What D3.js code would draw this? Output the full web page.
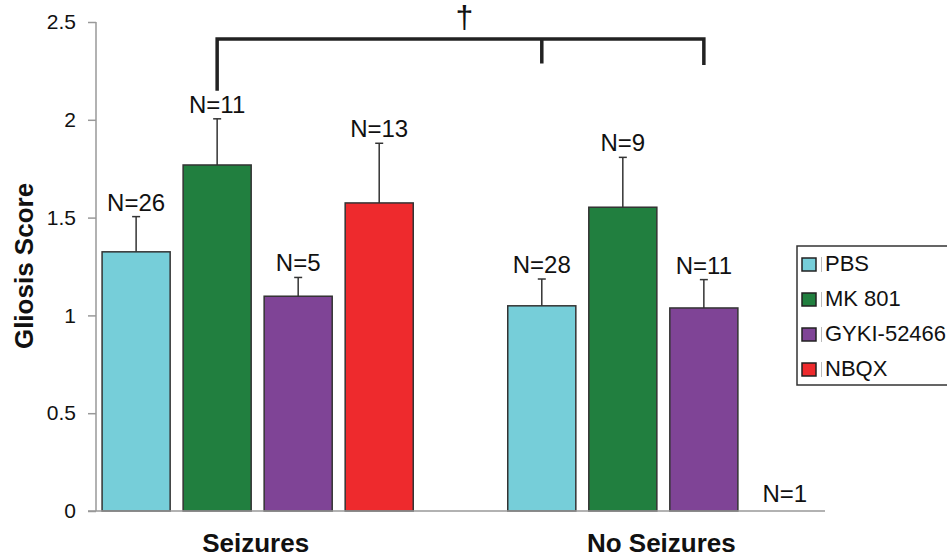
<!DOCTYPE html>
<html>
<head>
<meta charset="utf-8">
<script src="https://cdn.jsdelivr.net/npm/d3@7"></script>
<style>
	body { margin: 0; background: #fff; }
	text { font-family: Arial, "Liberation Sans", sans-serif; fill: #111; }
</style>
</head>
<body>
<div id="chart"></div>
<script>
	// values
	var groups = ["Seizures", "No Seizures"]
	var treatments = ["PBS", "MK 801", "GYKI-52466", "NBQX"]
	var colors = ["#76CED9", "#217F3F", "#7F4496", "#EE2A2D"]
	var meanSeizures = [1.325, 1.769, 1.098, 1.575]
	var meanNoSeizures = [1.049, 1.553, 1.038, 0]
	var semSeizures = [0.18, 0.236, 0.096, 0.305]
	var semNoSeizures = [0.137, 0.255, 0.145, 0]
	var nSeizures = [26, 11, 5, 13]
	var nNoSeizures = [28, 9, 11, 1]
	var yTicks = [0, 0.5, 1, 1.5, 2, 2.5]

	var width = 947, height = 559

	var svg = d3.select("#chart").append("svg").attr("width", width).attr("height", height)

	var y = d3.scaleLinear().domain([0, 2.5]).range([511, 22])
	var x0 = d3.scaleBand().domain(groups).range([96, 825]).paddingInner(0.233).paddingOuter(0.015)
	var x1 = d3.scaleBand().domain(treatments).range([0, x0.bandwidth()]).paddingInner(0.16).paddingOuter(0)

	var rows = []
	for (var i = 0; i < treatments.length; i++) {
		rows.push({g: groups[0], t: treatments[i], c: colors[i], v: meanSeizures[i], e: semSeizures[i], n: nSeizures[i]})
		rows.push({g: groups[1], t: treatments[i], c: colors[i], v: meanNoSeizures[i], e: semNoSeizures[i], n: nNoSeizures[i]})
	}
	function cx(d) { return x0(d.g) + x1(d.t) + x1.bandwidth() / 2 }

	// y axis
	var yAxis = d3.axisLeft(y).tickValues(yTicks).tickSize(8).tickPadding(12).tickFormat(d3.format("~g"))
	var ya = svg.append("g").attr("transform", "translate(96,0)").call(yAxis)
	ya.select(".domain").attr("stroke", "#999").attr("stroke-width", 1.5).attr("d", "M0," + y(2.5) + "V" + y(0))
	ya.selectAll(".tick line").attr("stroke", "#999").attr("stroke-width", 1.5)
	ya.selectAll(".tick text").style("font-size", "21px").style("font-family", "Arial, 'Liberation Sans', sans-serif").attr("fill", "#111")

	svg.append("text")
		.attr("transform", "translate(33,266) rotate(-90)")
		.attr("text-anchor", "middle")
		.style("font-size", "26px").style("font-weight", "bold")
		.text("Gliosis Score")

	// bars
	var drawn = rows.filter(function(d){ return d.v > 0 })
	svg.selectAll("rect.bar").data(drawn).enter().append("rect")
		.attr("class", "bar")
		.attr("x", function(d){ return x0(d.g) + x1(d.t) })
		.attr("y", function(d){ return y(d.v) })
		.attr("width", x1.bandwidth())
		.attr("height", function(d){ return y(0) - y(d.v) })
		.attr("fill", function(d){ return d.c })
		.attr("stroke", "#333")
		.attr("stroke-width", 1.5)

	// error bars (upper only)
	svg.selectAll("line.err").data(drawn).enter().append("line")
		.attr("x1", cx).attr("x2", cx)
		.attr("y1", function(d){ return y(d.v) })
		.attr("y2", function(d){ return y(d.v + d.e) })
		.attr("stroke", "#333").attr("stroke-width", 1.5)
	svg.selectAll("line.cap").data(drawn).enter().append("line")
		.attr("x1", function(d){ return cx(d) - 4 }).attr("x2", function(d){ return cx(d) + 4 })
		.attr("y1", function(d){ return y(d.v + d.e) })
		.attr("y2", function(d){ return y(d.v + d.e) })
		.attr("stroke", "#333").attr("stroke-width", 1.5)

	// N labels
	svg.selectAll("text.n").data(rows).enter().append("text")
		.attr("x", cx)
		.attr("y", function(d){ return y(d.v + d.e) - (d.v > 0 ? 6 : 9) })
		.attr("text-anchor", "middle")
		.style("font-size", "24px")
		.text(function(d){ return "N=" + d.n })

	// x axis
	svg.append("line").attr("x1", 88).attr("x2", 825).attr("y1", y(0)).attr("y2", y(0))
		.attr("stroke", "#999").attr("stroke-width", 1.5)
	svg.selectAll("text.grp").data(groups).enter().append("text")
		.attr("x", function(d){ return x0(d) + x0.bandwidth() / 2 - 2 })
		.attr("y", 552)
		.attr("text-anchor", "middle")
		.style("font-size", "26px").style("font-weight", "bold")
		.text(function(d){ return d })

	// significance bracket
	var bx = [cx(rows[2]), cx(rows[1]), cx(rows[5])]
	var bTop = y(2.413)
	svg.append("path")
		.attr("d", "M" + bx[0] + "," + y(2.148) + "V" + bTop + "H" + bx[2] + "V" + y(2.28)
			+ "M" + bx[1] + "," + bTop + "V" + y(2.288))
		.attr("fill", "none").attr("stroke", "#222").attr("stroke-width", 3.5)
	svg.append("text")
		.attr("x", (bx[0] + bx[2]) / 2 + 4).attr("y", 28)
		.attr("text-anchor", "middle")
		.style("font-size", "32px")
		.text("\u2020")

	// legend
	var lg = svg.append("g").attr("transform", "translate(797,246)")
	lg.append("rect").attr("width", 170).attr("height", 139)
		.attr("fill", "#fff").attr("stroke", "#333").attr("stroke-width", 1.5)
	var items = lg.selectAll("g.item").data(treatments).enter().append("g")
		.attr("transform", function(d, i){ return "translate(0," + (i * 35) + ")" })
	items.append("rect").attr("x", 5).attr("y", 12).attr("width", 14).attr("height", 13)
		.attr("fill", function(d, i){ return colors[i] }).attr("stroke", "#222").attr("stroke-width", 1.5)
	items.append("line").attr("x1", 24.5).attr("x2", 24.5).attr("y1", 11).attr("y2", 26)
		.attr("stroke", "#bbb").attr("stroke-width", 1)
	items.append("text").attr("x", 28).attr("y", 25)
		.style("font-size", "22px")
		.text(function(d){ return d })
</script>
</body>
</html>
